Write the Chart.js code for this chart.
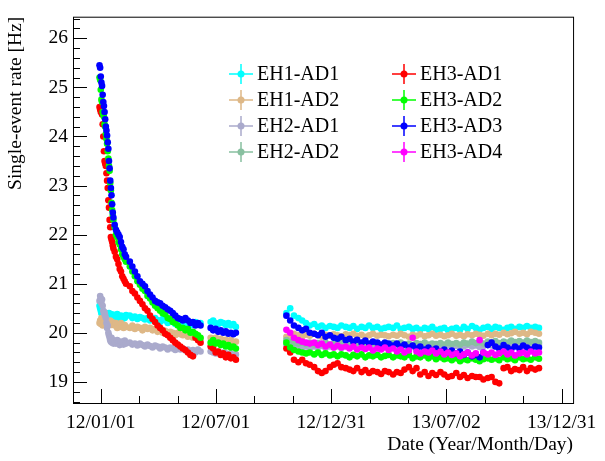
<!DOCTYPE html>
<html>
<head>
<meta charset="utf-8">
<script src="https://cdn.jsdelivr.net/npm/chart.js@4/dist/chart.umd.min.js"></script>
<style>
  html, body { margin: 0; padding: 0; background: #fff; }
  #wrap { width: 605px; height: 461px; }
</style>
</head>
<body>
<div id="wrap"><canvas id="chartRate"></canvas></div>
<script>
// days since 2012-01-01
const days1 = [-2,-1,0,1,2,3,4,5,6,7,8,9,10,11,12,13,14,15,16,17,18,19,20,
  22,24,26,28,30,32,34,36,38,40,
  46,50,54,58,62,66,70,74,78,82,86,90,94,98,102,106,110,114,118,122,126,130,134,138,142,146,150,154,158,
  174,178,182,186,190,194,198,202,206,210,214];
const days2 = [294,300,306,313,319,325,331,338,344,350,356,363,369,
  375,381,388,394,400,406,413,419,425,431,438,444,450,
  456,463,469,475,481,488,494,500,506,513,519,525,531,
  538,544,550,556,563,569,575,581,588,594,600,606,613,
  619,625,631,638,644,650,656,663,669,675,681,688,694];

const tickDays = [0, 182, 365, 547, 730];
const tickLabels = ['12/01/01', '12/07/01', '12/12/31', '13/07/02', '13/12/31'];
const yTicks = [19, 20, 21, 22, 23, 24, 25, 26];

const eh1ad1_p1 = [20.55,20.5,20.45,20.4,20.38,20.42,20.35,20.4,20.36,20.33,20.4,20.35,20.38,20.32,20.36,20.4,20.34,20.3,20.38,20.35,20.33,20.37,20.3,
  20.35,20.3,20.38,20.32,20.3,20.35,20.28,20.33,20.3,20.36,
  20.35,20.3,20.33,20.28,20.32,20.3,20.27,20.3,20.25,20.28,20.3,20.26,20.22,20.28,20.25,20.2,20.24,20.22,20.18,20.25,20.2,20.22,20.18,20.2,20.15,20.2,20.22,20.18,20.2,
  20.22,20.25,20.2,20.18,20.22,20.2,20.16,20.2,20.15,20.18,20.12];
const eh1ad1_p2 = [20.4,20.5,20.35,20.3,20.25,20.2,20.15,20.18,20.12,20.15,20.1,20.14,20.12,
  20.1,20.15,20.12,20.1,20.14,20.08,20.12,20.1,20.15,20.1,20.12,20.08,20.1,
  20.12,20.1,20.15,20.08,20.1,20.12,20.08,20.1,20.06,20.1,20.08,20.12,20.06,
  20.08,20.1,20.05,20.08,20.1,20.06,20.12,20.08,20.14,20.1,20.06,20.1,20.12,
  20.08,20.12,20.1,20.06,20.1,20.12,20.08,20.12,20.1,20.14,20.1,20.12,20.1];

const eh1ad2_p1 = [20.2,20.25,20.18,20.3,20.22,20.15,20.25,20.2,20.28,20.18,20.22,20.26,20.2,20.15,20.24,20.2,20.18,20.25,20.2,20.16,20.22,20.18,20.2,
  20.15,20.2,20.1,20.18,20.12,20.2,20.15,20.1,20.16,20.12,
  20.1,20.15,20.08,20.12,20.1,20.05,20.12,20.08,20.1,20.05,20.08,20.02,20.06,20.0,20.04,19.98,20.02,20.0,19.95,20.0,19.97,19.95,19.98,19.92,19.95,19.9,19.93,19.9,19.88,
  19.9,19.88,19.9,19.85,19.88,19.84,19.86,19.82,19.85,19.8,19.82];
const eh1ad2_p2 = [19.92,19.95,19.98,19.95,19.92,19.96,19.94,19.98,19.95,19.92,19.96,19.94,19.97,
  19.95,19.93,19.97,19.95,19.98,19.94,19.96,19.92,19.95,19.98,19.94,19.96,19.95,
  19.93,19.96,19.94,19.98,19.95,19.92,19.96,19.94,19.97,19.93,19.95,19.98,19.94,
  19.96,19.93,19.95,19.98,19.94,19.96,19.93,19.97,19.95,19.98,19.96,19.94,19.98,
  19.95,19.98,19.96,20.0,19.97,19.99,20.02,19.98,20.0,19.97,20.02,20.0,19.98];

const eh2ad1_p1 = [20.65,20.75,20.7,20.6,20.68,20.55,20.45,20.4,20.42,20.35,20.3,20.2,20.1,20.15,20.0,19.95,19.9,19.85,19.82,19.9,19.8,19.85,19.78,
  19.82,19.78,19.85,19.8,19.75,19.82,19.8,19.76,19.84,19.78,
  19.8,19.76,19.78,19.74,19.78,19.75,19.72,19.76,19.73,19.7,19.74,19.72,19.68,19.72,19.7,19.66,19.7,19.68,19.65,19.7,19.66,19.68,19.64,19.66,19.62,19.65,19.6,19.66,19.62,
  19.62,19.6,19.58,19.62,19.56,19.6,19.58,19.55,19.58,19.54,19.56];
const eh2ad1_p2 = [19.75,19.72,19.7,19.74,19.7,19.72,19.68,19.72,19.7,19.73,19.69,19.72,19.7,
  19.72,19.69,19.73,19.7,19.72,19.68,19.71,19.7,19.73,19.69,19.72,19.7,19.71,
  19.7,19.73,19.69,19.72,19.7,19.68,19.72,19.7,19.74,19.71,19.7,19.73,19.7,
  19.72,19.7,19.74,19.71,19.73,19.7,19.72,19.75,19.72,19.74,19.71,19.73,19.75,
  19.74,19.72,19.76,19.73,19.75,19.72,19.76,19.74,19.77,19.74,19.76,19.73,19.75];

const eh2ad2_p2 = [19.85,19.82,19.8,19.78,19.8,19.77,19.8,19.76,19.79,19.77,19.8,19.76,19.78,
  19.77,19.8,19.76,19.79,19.77,19.8,19.75,19.78,19.76,19.79,19.77,19.75,19.78,
  19.76,19.79,19.77,19.8,19.76,19.78,19.75,19.79,19.77,19.8,19.76,19.78,19.77,
  19.79,19.76,19.8,19.77,19.79,19.76,19.8,19.78,19.82,19.79,19.81,19.78,19.82,
  19.8,19.83,19.79,19.82,19.8,19.84,19.81,19.83,19.8,19.84,19.81,19.83,19.8];

const eh3ad1_p1 = [24.6,24.55,24.5,24.6,24.45,24.25,24.0,23.7,23.5,23.45,23.4,23.25,23.1,22.95,22.7,22.55,22.3,22.15,21.95,21.9,21.85,21.78,21.72,
  21.65,21.55,21.5,21.4,21.3,21.25,21.15,21.1,21.05,21.0,
  20.95,20.85,20.8,20.72,20.65,20.58,20.5,20.45,20.35,20.28,20.22,20.15,20.1,20.05,19.98,19.95,19.9,19.85,19.8,19.76,19.72,19.68,19.65,19.6,19.55,19.52,19.9,19.85,19.8,
  19.72,19.68,19.6,19.62,19.55,19.58,19.5,19.55,19.48,19.5,19.45];
const eh3ad1_p2 = [19.68,19.6,19.45,19.4,19.45,19.38,19.35,19.3,19.22,19.18,19.22,19.3,19.35,
  19.38,19.3,19.28,19.25,19.22,19.28,19.2,19.24,19.18,19.22,19.2,19.16,19.22,
  19.2,19.15,19.2,19.18,19.25,19.3,19.22,19.28,19.15,19.2,19.12,19.18,19.14,
  19.2,19.15,19.1,19.12,19.18,19.1,19.14,19.08,19.12,19.1,19.1,19.05,19.08,
  19.1,19.0,18.97,19.28,19.3,19.22,19.26,19.24,19.3,19.22,19.28,19.25,19.28];

const eh3ad2_p1 = [25.2,25.15,24.95,24.75,24.7,24.5,24.45,24.4,24.25,24.2,24.05,23.95,23.85,23.7,23.55,23.4,23.3,23.05,22.9,22.65,22.5,22.4,22.3,
  22.15,22.0,21.95,21.85,21.8,21.7,21.6,21.55,21.5,21.45,
  21.35,21.25,21.15,21.05,20.98,20.9,20.85,20.75,20.7,20.62,20.55,20.5,20.45,20.4,20.38,20.3,20.28,20.22,20.2,20.15,20.1,20.1,20.05,20.08,20.0,20.02,19.98,19.95,19.9,
  19.8,19.85,19.78,19.8,19.75,19.78,19.72,19.75,19.7,19.72,19.68];
const eh3ad2_p2 = [19.8,19.7,19.65,19.62,19.6,19.58,19.6,19.56,19.6,19.55,19.58,19.54,19.56,
  19.52,19.56,19.54,19.5,19.55,19.52,19.56,19.5,19.54,19.52,19.55,19.5,19.53,
  19.55,19.5,19.54,19.52,19.5,19.55,19.48,19.52,19.5,19.54,19.48,19.52,19.46,
  19.5,19.46,19.48,19.44,19.48,19.42,19.46,19.44,19.48,19.45,19.42,19.46,19.48,
  19.45,19.48,19.44,19.5,19.46,19.48,19.44,19.5,19.46,19.48,19.45,19.5,19.47];

const eh3ad3_p1 = [25.45,25.4,25.22,25.1,25.03,24.85,24.7,24.62,24.5,24.35,24.2,24.12,24.02,23.88,23.75,23.5,23.35,23.1,22.95,22.8,22.62,22.45,22.35,
  22.2,22.1,22.05,22.0,21.95,21.85,21.75,21.7,21.6,21.55,
  21.45,21.35,21.25,21.15,21.05,21.0,20.95,20.85,20.78,20.72,20.65,20.62,20.6,20.55,20.52,20.48,20.45,20.4,20.35,20.3,20.28,20.25,20.3,20.25,20.2,20.22,20.15,20.2,20.15,
  20.1,20.05,20.08,20.02,20.05,20.0,20.03,19.98,20.0,19.97,20.0];
const eh3ad3_p2 = [20.35,20.25,20.15,20.1,20.05,20.08,20.0,19.98,19.95,20.0,19.92,19.95,19.9,
  19.88,19.92,19.85,19.88,19.82,19.86,19.8,19.84,19.78,19.82,19.8,19.76,19.8,
  19.78,19.74,19.78,19.72,19.76,19.7,19.74,19.68,19.72,19.66,19.7,19.65,19.68,
  19.62,19.66,19.6,19.64,19.58,19.62,19.55,19.6,19.52,19.55,19.5,19.6,19.75,19.8,
  19.72,19.68,19.75,19.7,19.66,19.72,19.68,19.74,19.7,19.66,19.72,19.7,19.68];

const eh3ad4_p2 = [20.06,20.0,19.9,19.85,19.82,19.8,19.78,19.8,19.75,19.78,19.72,19.76,19.7,
  19.74,19.7,19.72,19.68,19.72,19.66,19.7,19.67,19.7,19.64,19.68,19.66,19.7,
  19.65,19.68,19.62,19.66,19.6,19.64,19.9,19.62,19.58,19.62,19.6,19.64,19.58,
  19.62,19.56,19.6,19.55,19.58,19.52,19.56,19.6,19.54,19.58,19.85,19.6,19.56,
  19.6,19.55,19.58,19.62,19.56,19.6,19.54,19.58,19.6,19.56,19.62,19.58,19.6];

const seriesNames = ['EH1-AD1','EH1-AD2','EH2-AD1','EH2-AD2','EH3-AD1','EH3-AD2','EH3-AD3','EH3-AD4'];
const seriesColors = ['#00ffff','#deb887','#aaaacc','#88c0a0','#ff0000','#00ff00','#0000ff','#ff00ff'];

function pts(days, vals) {
  return days.map((d, i) => ({ x: d, y: vals[i] }));
}

const seriesData = [
  pts(days1, eh1ad1_p1).concat(pts(days2, eh1ad1_p2)),
  pts(days1, eh1ad2_p1).concat(pts(days2, eh1ad2_p2)),
  pts(days1, eh2ad1_p1).concat(pts(days2, eh2ad1_p2)),
  pts(days2, eh2ad2_p2),
  pts(days1, eh3ad1_p1).concat(pts(days2, eh3ad1_p2)),
  pts(days1, eh3ad2_p1).concat(pts(days2, eh3ad2_p2)),
  pts(days1, eh3ad3_p1).concat(pts(days2, eh3ad3_p2)),
  pts(days2, eh3ad4_p2)
];

const FONT = "'Liberation Serif', 'DejaVu Serif', serif";

// ROOT-like frame, inward ticks and the two-column legend
const rootStyle = {
  id: 'rootStyle',
  afterDraw(chart) {
    const { ctx, chartArea: a, scales } = chart;
    const xs = scales.x, ys = scales.y;
    ctx.save();
    ctx.strokeStyle = '#000';
    ctx.lineWidth = 1;
    ctx.strokeRect(a.left + 0.5, a.top + 0.5, a.right - a.left, a.bottom - a.top);
    ctx.beginPath();
    for (let v = 18.6; v < 26.45; v += 0.2) {
      const y = Math.round(ys.getPixelForValue(v)) + 0.5;
      const major = Math.abs(v - Math.round(v)) < 0.01;
      ctx.moveTo(a.left, y);
      ctx.lineTo(a.left + (major ? 14 : 7), y);
    }
    for (let k = -1; k <= 13; k++) {
      const d = k * 182.5 / 3;
      if (d < xs.min || d > xs.max) continue;
      const x = Math.round(xs.getPixelForValue(d)) + 0.5;
      const major = k % 3 === 0;
      ctx.moveTo(x, a.bottom);
      ctx.lineTo(x, a.bottom - (major ? 14 : 7));
    }
    ctx.stroke();

    // legend
    const rows = [74, 100, 126, 152];
    const cols = [{ m: 241, t: 257 }, { m: 404, t: 420 }];
    ctx.font = '20px ' + FONT;
    ctx.textBaseline = 'middle';
    seriesNames.forEach((name, i) => {
      const c = cols[Math.floor(i / 4)];
      const y = rows[i % 4];
      ctx.strokeStyle = seriesColors[i];
      ctx.lineWidth = 1.5;
      ctx.beginPath();
      ctx.moveTo(c.m - 12, y); ctx.lineTo(c.m + 12, y);
      ctx.moveTo(c.m, y - 10); ctx.lineTo(c.m, y + 10);
      ctx.stroke();
      ctx.fillStyle = seriesColors[i];
      ctx.beginPath();
      ctx.arc(c.m, y, 3.5, 0, Math.PI * 2);
      ctx.fill();
      ctx.fillStyle = '#000';
      ctx.fillText(name, c.t, y + 1);
    });
    ctx.restore();
  }
};

new Chart(document.getElementById('chartRate'), {
  type: 'scatter',
  data: {
    datasets: seriesData.map((d, i) => ({
      label: seriesNames[i],
      data: d,
      order: 8 - i,
      backgroundColor: seriesColors[i],
      borderColor: seriesColors[i],
      pointRadius: 3.3,
      pointBorderWidth: 0
    }))
  },
  options: {
    responsive: true,
    maintainAspectRatio: false,
    animation: false,
    layout: { padding: { top: 13, right: 28, left: 0, bottom: 0 } },
    plugins: { legend: { display: false }, tooltip: { enabled: false } },
    scales: {
      x: {
        type: 'linear',
        min: -44,
        max: 748,
        afterFit: s => { s.height = 58; },
        afterBuildTicks: s => { s.ticks = tickDays.map(v => ({ value: v })); },
        grid: { display: false, drawTicks: false },
        border: { display: false },
        ticks: {
          autoSkip: false, maxRotation: 0, padding: 8, color: '#000',
          font: { family: FONT, size: 19.5 },
          callback: v => tickLabels[tickDays.indexOf(v)]
        },
        title: {
          display: true, align: 'end', text: 'Date (Year/Month/Day)', color: '#000',
          font: { family: FONT, size: 19.5 }, padding: { top: 7 }
        }
      },
      y: {
        min: 18.57,
        max: 26.44,
        afterFit: s => { s.width = 73; },
        afterBuildTicks: s => { s.ticks = yTicks.map(v => ({ value: v })); },
        grid: { display: false, drawTicks: false },
        border: { display: false },
        ticks: { padding: 5, color: '#000', font: { family: FONT, size: 19.5 } },
        title: {
          display: true, align: 'end', text: 'Single-event rate [Hz]', color: '#000',
          font: { family: FONT, size: 19.5 }, padding: { bottom: 4 }
        }
      }
    }
  },
  plugins: [rootStyle]
});
</script>
</body>
</html>
